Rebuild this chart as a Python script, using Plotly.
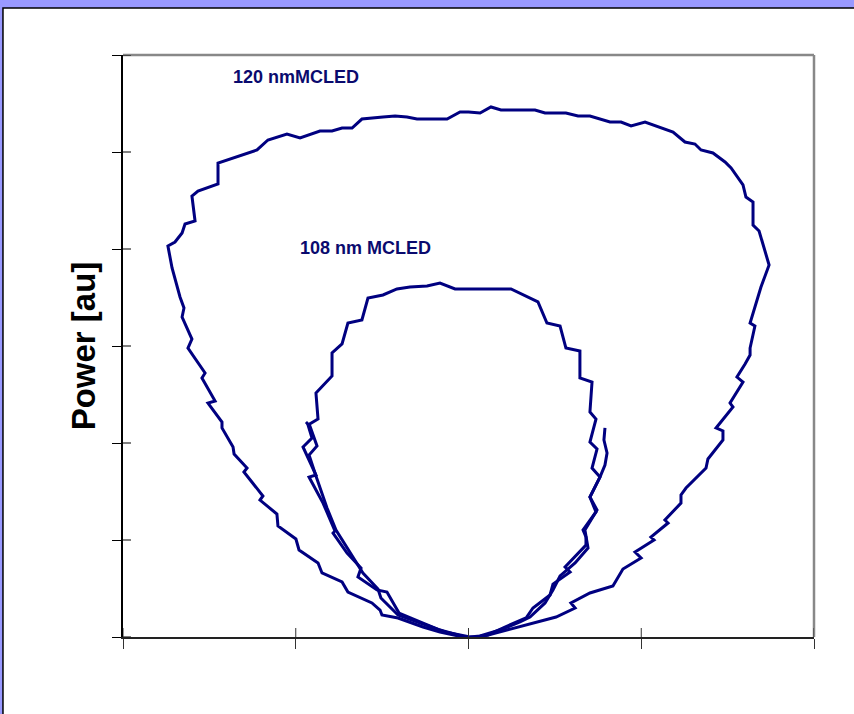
import plotly.graph_objects as go

# 120 nm MCLED (outer pattern)
outer_x = [0.0, -0.032, -0.165, -0.263, -0.408, -0.501, -0.512, -0.559, -0.698, -0.732,
           -0.848, -0.871, -0.981, -0.999, -1.103, -1.109, -1.207, -1.190, -1.300, -1.282,
           -1.357, -1.363, -1.427, -1.427, -1.508, -1.467, -1.543, -1.525, -1.624, -1.601,
           -1.658, -1.647, -1.670, -1.716, -1.740, -1.699, -1.658, -1.641, -1.583, -1.601,
           -1.566, -1.450, -1.450, -1.224, -1.161, -1.051, -0.975, -0.860, -0.790, -0.732,
           -0.674, -0.617, -0.495, -0.425, -0.356, -0.298, -0.124, -0.049, 0.0, 0.067,
           0.130, 0.188, 0.385, 0.443, 0.564, 0.634, 0.703, 0.819, 0.883, 0.941,
           1.022, 1.184, 1.253, 1.311, 1.346, 1.415, 1.485, 1.520, 1.589, 1.606,
           1.647, 1.647, 1.682, 1.740, 1.693, 1.630, 1.658, 1.630, 1.630, 1.601,
           1.554, 1.589, 1.514, 1.531, 1.433, 1.473, 1.473, 1.386, 1.375, 1.259,
           1.230, 1.230, 1.137, 1.155, 1.056, 1.074, 0.964, 0.999, 0.894, 0.836,
           0.703, 0.593, 0.617, 0.507, 0.113, 0.067, 0.009]
outer_y = [0.0, 0.0, 0.052, 0.103, 0.196, 0.227, 0.278, 0.351, 0.464, 0.567,
           0.660, 0.763, 0.897, 1.010, 1.144, 1.268, 1.412, 1.454, 1.701, 1.742,
           1.887, 1.959, 2.155, 2.216, 2.412, 2.433, 2.670, 2.722, 2.979, 3.072,
           3.299, 3.392, 3.505, 3.804, 4.031, 4.072, 4.165, 4.258, 4.289, 4.546,
           4.598, 4.670, 4.887, 5.021, 5.124, 5.186, 5.144, 5.216, 5.216, 5.247,
           5.247, 5.340, 5.361, 5.371, 5.361, 5.340, 5.340, 5.412, 5.412, 5.402,
           5.464, 5.433, 5.433, 5.402, 5.402, 5.371, 5.371, 5.309, 5.309, 5.268,
           5.309, 5.206, 5.103, 5.082, 5.021, 4.990, 4.897, 4.835, 4.660, 4.536,
           4.485, 4.247, 4.186, 3.835, 3.608, 3.237, 3.206, 2.979, 2.907, 2.814,
           2.680, 2.629, 2.412, 2.371, 2.155, 2.124, 2.031, 1.835, 1.742, 1.536,
           1.464, 1.381, 1.206, 1.175, 1.031, 1.000, 0.876, 0.814, 0.701, 0.526,
           0.454, 0.351, 0.299, 0.206, 0.021, 0.0, 0.0]

# 108 nm MCLED (inner pattern, full scan)
inner_a_x = [-0.020, -0.165, -0.263, -0.402, -0.472, -0.530, -0.640, -0.622, -0.703, -0.784,
             -0.773, -0.842, -0.923, -0.883, -0.958, -0.906, -0.929, -0.871, -0.883, -0.790,
             -0.790, -0.732, -0.698, -0.617, -0.582, -0.495, -0.414, -0.339, -0.240, -0.165,
             -0.078, 0.246, 0.402, 0.454, 0.530, 0.564, 0.645, 0.645, 0.715, 0.703,
             0.738, 0.703, 0.744, 0.715, 0.761, 0.703, 0.738, 0.663, 0.680, 0.680,
             0.559, 0.588, 0.489, 0.472, 0.373, 0.333, 0.211, 0.113, 0.038]
inner_a_y = [0.0, 0.072, 0.144, 0.247, 0.464, 0.485, 0.619, 0.711, 0.866, 1.072,
             1.093, 1.381, 1.649, 1.670, 1.959, 2.052, 2.186, 2.247, 2.515, 2.691,
             2.928, 3.021, 3.237, 3.268, 3.495, 3.526, 3.588, 3.608, 3.619, 3.649,
             3.588, 3.588, 3.454, 3.237, 3.206, 2.979, 2.948, 2.670, 2.629, 2.320,
             2.247, 2.010, 1.938, 1.742, 1.649, 1.443, 1.289, 1.103, 1.031, 0.948,
             0.722, 0.670, 0.546, 0.433, 0.299, 0.196, 0.103, 0.021, 0.0]

# 108 nm MCLED (inner pattern, second partial scan)
inner_b_x = [-0.941, -0.918, -0.877, -0.923, -0.883, -0.819, -0.767, -0.692, -0.611, -0.524,
             -0.507, -0.408, -0.252, -0.136, 0.009, 0.067, 0.182, 0.298, 0.356, 0.443,
             0.489, 0.530, 0.617, 0.692, 0.674, 0.744, 0.703, 0.761, 0.790, 0.802,
             0.784, 0.790]
inner_b_y = [2.216, 2.175, 1.969, 1.876, 1.660, 1.330, 1.103, 0.887, 0.660, 0.495,
             0.402, 0.227, 0.124, 0.052, 0.0, 0.010, 0.072, 0.155, 0.206, 0.351,
             0.485, 0.629, 0.763, 0.918, 1.103, 1.309, 1.443, 1.649, 1.773, 1.897,
             2.031, 2.155]

labels = ["120 nmMCLED", "108 nm MCLED"]
label_x = [-0.999, -0.599]
label_y = [5.773, 4.010]

x_ticks = [-2, -1, 0, 1, 2]
y_ticks = [0, 1, 2, 3, 4, 5, 6]

NAVY = "#000080"
fig = go.Figure()
for xs, ys in [(outer_x, outer_y), (inner_a_x, inner_a_y), (inner_b_x, inner_b_y)]:
    fig.add_trace(go.Scatter(x=xs, y=ys, mode="lines",
                             line=dict(color=NAVY, width=3), showlegend=False,
                             hoverinfo="skip"))

for t, lx, ly in zip(labels, label_x, label_y):
    fig.add_annotation(x=lx, y=ly, text=f"<b>{t}</b>", showarrow=False,
                       xanchor="center", yanchor="middle",
                       font=dict(family="Liberation Sans, Arial", size=18, color="#0a0a6e"))

# page panel (white with dark top/left border)
fig.add_shape(type="rect", xref="paper", yref="paper",
              x0=-0.1737, x1=1.10, y0=-0.16, y1=1.0808,
              fillcolor="white", line=dict(color="black", width=1.5), layer="below")
# gray top/right frame
fig.add_shape(type="line", xref="paper", yref="paper", x0=0, x1=1, y0=1, y1=1,
              line=dict(color="#888888", width=2.5))
fig.add_shape(type="line", xref="paper", yref="paper", x0=1, x1=1, y0=0, y1=1,
              line=dict(color="#888888", width=2.5))

# inner halves of the crossing tick marks
PW, PH = 691.0, 582.0
for v in y_ticks:
    fig.add_shape(type="line", xref="paper", yref="y", x0=0, x1=8 / PW, y0=v, y1=v,
                  line=dict(color="black", width=1))
for v in x_ticks:
    fig.add_shape(type="line", xref="x", yref="paper", x0=v, x1=v, y0=0, y1=9 / PH,
                  line=dict(color="#333333", width=1))

common = dict(showgrid=False, zeroline=False, showticklabels=False)
fig.update_layout(
    width=854, height=714,
    margin=dict(l=123, r=40, t=55, b=77),
    paper_bgcolor="#9999ff",
    plot_bgcolor="white",
    font=dict(family="Liberation Sans, Arial"),
    xaxis=dict(range=[-2, 2], tickvals=x_ticks, ticks="outside", ticklen=10,
               tickcolor="#333333", tickwidth=1, showline=True, linecolor="#222222",
               linewidth=2, **common),
    yaxis=dict(range=[0, 6], tickvals=y_ticks, ticks="outside", ticklen=9,
               tickcolor="black", tickwidth=1, showline=True, linecolor="black",
               linewidth=1.5,
               title=dict(text="<b>Power [au]</b>", standoff=7,
                          font=dict(size=33, color="black",
                                    family="Liberation Sans, Arial")),
               **common),
)

fig.write_html("out.html")
